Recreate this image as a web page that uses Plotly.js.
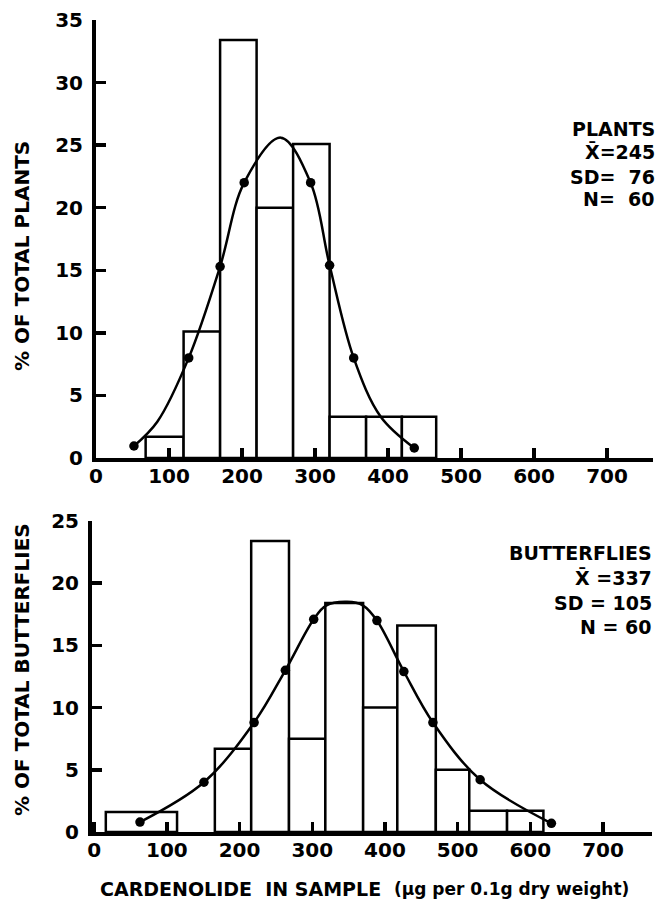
<!DOCTYPE html>
<html>
<head>
<meta charset="utf-8">
<script src="https://cdn.plot.ly/plotly-3.0.1.min.js"></script>
<style>html,body{margin:0;padding:0;background:#fff;}#chart{width:661px;height:904px;}</style>
</head>
<body>
<div id="chart"></div>
<script>
// ---------- DATA ----------
// Plants histogram: bin edges (µg per 0.1 g) and % of total plants
const plantBinEdges = [68, 120, 170, 220, 270, 320, 370, 419, 466];
const plantPct      = [1.7, 10.1, 33.4, 20.0, 25.1, 3.3, 3.3, 3.3];
// Plants fitted normal curve: dots and curve points
const plantDotX   = [52, 127, 170, 203, 294, 320, 353, 436];
const plantDotY   = [0.96, 8.0, 15.3, 22.0, 22.0, 15.4, 8.0, 0.8];
const plantCurveX = [52, 84, 127, 170, 203, 253, 294, 320, 353, 390, 436];
const plantCurveY = [0.96, 2.9, 8.0, 15.3, 22.0, 25.6, 22.0, 15.4, 8.0, 3.3, 0.8];

// Butterflies histogram: bin left/right edges and % of total butterflies
const butterflyBinLeft  = [16, 166, 216, 268, 318, 370, 417, 470, 516, 568];
const butterflyBinRight = [114, 216, 268, 318, 370, 417, 470, 516, 568, 618];
const butterflyPct      = [1.6, 6.7, 23.4, 7.5, 18.4, 10.0, 16.6, 5.0, 1.7, 1.7];
// Butterflies fitted normal curve
const butterflyDotX   = [63, 151, 220, 263, 302, 389, 426, 466, 531, 629];
const butterflyDotY   = [0.8, 4.0, 8.8, 13.0, 17.1, 17.0, 12.9, 8.8, 4.2, 0.7];
const butterflyCurveX = [63, 151, 220, 263, 302, 319, 348, 370, 389, 426, 466, 531, 629];
const butterflyCurveY = [0.8, 4.0, 8.8, 13.0, 17.1, 18.2, 18.5, 18.2, 17.0, 12.9, 8.8, 4.2, 0.7];

// Tick labels
const xTicks = [0, 100, 200, 300, 400, 500, 600, 700];
const plantYTicks = [0, 5, 10, 15, 20, 25, 30, 35];
const butterflyYTicks = [0, 5, 10, 15, 20, 25];

// Text
const plantStats = ['PLANTS', 'X\u0304=245', 'SD=  76', 'N=  60'];
const butterflyStats = ['BUTTERFLIES', 'X\u0304 =337', 'SD = 105', 'N = 60'];
const yTitlePlants = '% OF TOTAL PLANTS';
const yTitleButterflies = '% OF TOTAL BUTTERFLIES';
const xTitleMain = 'CARDENOLIDE  IN SAMPLE';
const xTitleUnit = '(µg per 0.1g dry weight)';

// ---------- LAYOUT ----------
const W = 661, H = 904;
const M = {l: 90, r: 8, t: 20, b: 72};
const PW = W - M.l - M.r, PH = H - M.t - M.b;
const px = x => (x - M.l) / PW;            // pixel -> paper x
const py = y => (H - M.b - y) / PH;        // pixel -> paper y

const FONT = 'DejaVu Sans, Liberation Sans, Arial, sans-serif';
const ink = '#000';

function bars(lefts, rights, vals, xa, ya) {
  return {
    type: 'bar', x: lefts, y: vals,
    width: lefts.map((l, i) => rights[i] - l), offset: 0,
    marker: {color: '#fff', line: {color: ink, width: 2.5}},
    xaxis: xa, yaxis: ya, hoverinfo: 'skip'
  };
}
function curve(x, y, xa, ya) {
  return {type: 'scatter', mode: 'lines', x: x, y: y,
    line: {color: ink, width: 2.5, shape: 'spline', smoothing: 1},
    xaxis: xa, yaxis: ya, hoverinfo: 'skip', cliponaxis: false};
}
function dots(x, y, xa, ya) {
  return {type: 'scatter', mode: 'markers', x: x, y: y,
    marker: {color: ink, size: 9.5},
    xaxis: xa, yaxis: ya, hoverinfo: 'skip', cliponaxis: false};
}

const data = [
  bars(plantBinEdges.slice(0, -1), plantBinEdges.slice(1), plantPct, 'x', 'y'),
  curve(plantCurveX, plantCurveY, 'x', 'y'),
  dots(plantDotX, plantDotY, 'x', 'y'),
  bars(butterflyBinLeft, butterflyBinRight, butterflyPct, 'x2', 'y2'),
  curve(butterflyCurveX, butterflyCurveY, 'x2', 'y2'),
  dots(butterflyDotX, butterflyDotY, 'x2', 'y2')
];

const axBase = {
  showgrid: false, zeroline: false, showline: true, linecolor: ink, linewidth: 4,
  ticks: 'inside', ticklen: 10, tickwidth: 3.5, tickcolor: ink,
  tickfont: {family: FONT, size: 20, color: ink, weight: 'bold'},
  fixedrange: true
};

function xAxis(domain, range, anchor) {
  return Object.assign({}, axBase, {
    domain: domain, range: range, anchor: anchor,
    tickmode: 'array', tickvals: xTicks, ticktext: xTicks.map(String),
    ticklabelstandoff: -3
  });
}
function yAxis(domain, range, ticks, anchor) {
  return Object.assign({}, axBase, {
    domain: domain, range: range, anchor: anchor,
    tickmode: 'array', tickvals: ticks, ticktext: ticks.map(String),
    ticklabelstandoff: 5
  });
}

const annotations = [];
function txt(text, x, y, size, xanchor, angle) {
  annotations.push({
    text: text, xref: 'paper', yref: 'paper', x: px(x), y: py(y),
    xanchor: xanchor || 'center', yanchor: 'middle', showarrow: false,
    textangle: angle || 0,
    font: {family: FONT, size: size, color: ink, weight: 'bold'}
  });
}
// stats blocks
const plantStatY = [129, 152, 177, 199];
plantStats.forEach((s, i) => txt(s, 657, plantStatY[i], 19, 'right'));
const butterflyStatY = [553, 578, 603, 627];
butterflyStats.forEach((s, i) => txt(s, 654, butterflyStatY[i], 19, 'right'));
// axis titles
txt(yTitlePlants, 22, 256, 20, 'center', -90);
txt(yTitleButterflies, 22, 670, 20, 'center', -90);
txt(xTitleMain, 98, 889, 19, 'left');
txt(xTitleUnit, 392, 889, 17, 'left');

const layout = {
  width: W, height: H, margin: M,
  paper_bgcolor: '#fff', plot_bgcolor: '#fff', showlegend: false,
  bargap: 0, barmode: 'overlay',
  xaxis: xAxis([px(96), px(653)], [0, 763], 'y'),
  yaxis: yAxis([py(458), py(20)], [0, 35], plantYTicks, 'x'),
  xaxis2: xAxis([px(92), px(652)], [-3, 767.4], 'y2'),
  yaxis2: yAxis([py(832), py(521)], [0, 25], butterflyYTicks, 'x2'),
  annotations: annotations
};

Plotly.newPlot('chart', data, layout, {displayModeBar: false, staticPlot: true});
</script>
</body>
</html>
